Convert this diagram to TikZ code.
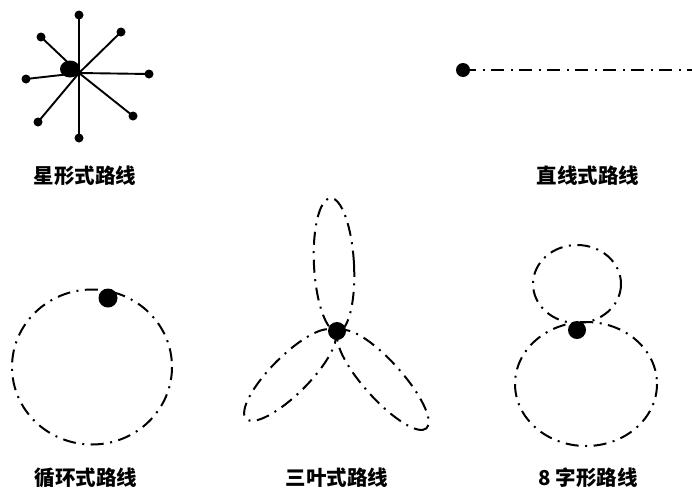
\documentclass[tikz,border=0pt]{standalone}
\usepackage{fontspec}
\newfontfamily\cjk{Noto Sans CJK SC}
\begin{document}
\begin{tikzpicture}[x=1pt,y=-1pt,
  route/.style={line width=2pt, dash pattern=on 13pt off 6.5pt on 2pt off 6.5pt},
  spoke/.style={line width=1.9pt},
  enddot/.style={circle, fill=black, inner sep=0pt, minimum size=9pt},
  bigdot/.style={circle, fill=black, inner sep=0pt, minimum size=19pt},
  lbl/.style={font=\cjk\bfseries\fontsize{20.5}{20.5}\selectfont, inner sep=0pt}]
\useasboundingbox (0,0) rectangle (692,490);
% star route
\coordinate (c) at (79,73);
\node[enddot] (e1) at (79,15) {};
\node[enddot] (e2) at (121,32) {};
\node[enddot] (e3) at (149,74) {};
\node[enddot] (e4) at (133,116) {};
\node[enddot] (e5) at (79,138) {};
\node[enddot] (e6) at (38,122) {};
\node[enddot] (e7) at (26,79) {};
\node[enddot] (e8) at (41,37) {};
\foreach \i in {1,...,8} \draw[spoke] (c) -- (e\i.center);
\fill (70,69) ellipse (10 and 8.5);
\node[lbl] (l1) at (85,176) {星形式路线};
% line route
\node[circle, fill=black, inner sep=0pt, minimum size=14pt] (ld) at (463,70) {};
\coordinate (lend) at (692,70);
\draw[route] (ld.center) -- (lend);
\node[lbl] (l2) at (588,176) {直线式路线};
% loop route
\draw[route] (92,367) ellipse (80 and 77.5);
\node[bigdot] (cd) at (108,298) {};
\node[lbl] (l3) at (86,478) {循环式路线};
% trefoil route
\draw[route, rotate around={3:(334,265)}] (334,265) ellipse (20 and 67);
\draw[route, rotate around={45:(290,375)}] (290,375) ellipse (62 and 19);
\draw[route, rotate around={-48:(383,380)}] (383,380) ellipse (65 and 19);
\node[bigdot, minimum size=18pt] (td) at (337,331) {};
\node[lbl] (l4) at (337,478) {三叶式路线};
% figure-eight route
\draw[route] (577,284) ellipse (44 and 39);
\draw[route] (586,384) ellipse (71 and 62);
\node[bigdot, minimum size=18pt] (fd) at (577,330) {};
\node[lbl] (l5) at (588,478) {8 字形路线};
\end{tikzpicture}
\end{document}
